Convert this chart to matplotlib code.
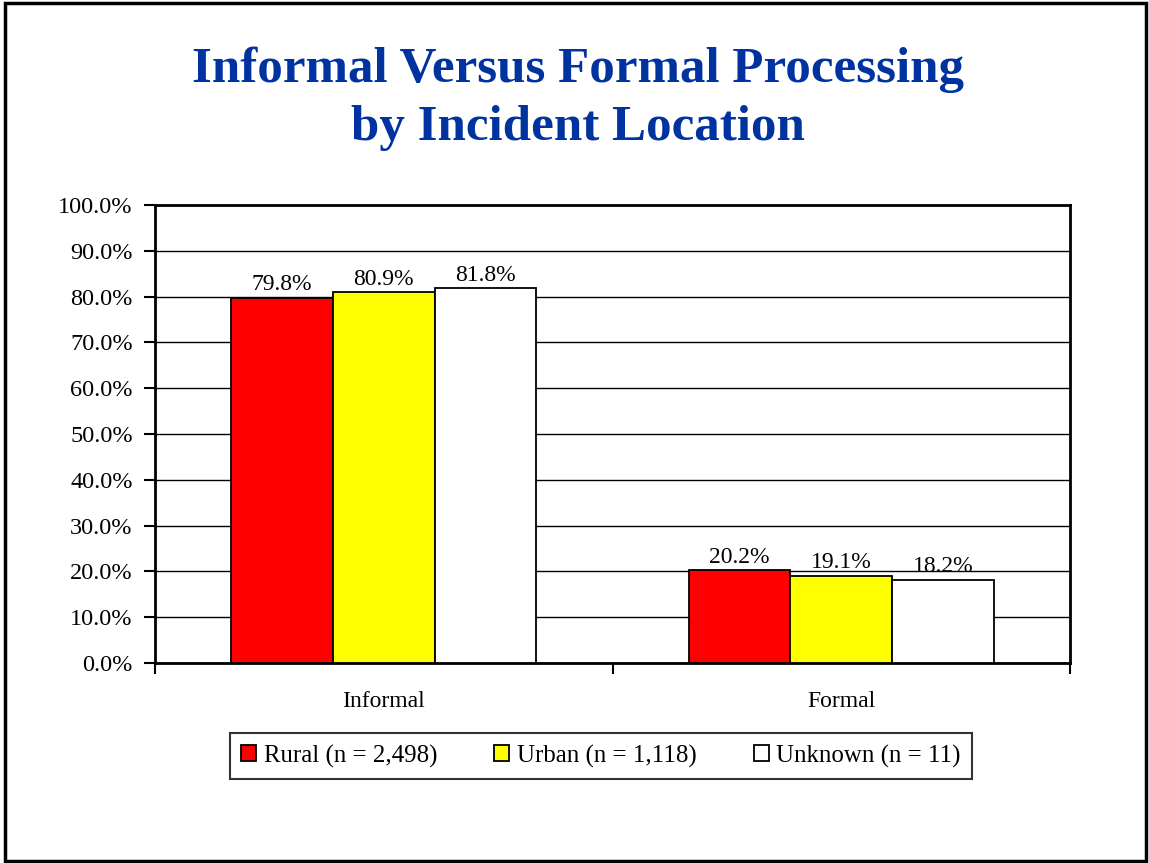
import numpy as np
import matplotlib.pyplot as plt
from matplotlib.patches import Rectangle

# datos del grafico
categorias = ['Informal', 'Formal']
series = ['Rural (n = 2,498)', 'Urban (n = 1,118)', 'Unknown (n = 11)']
rural = [79.8, 20.2]
urban = [80.9, 19.1]
unknown = [81.8, 18.2]
colores = ['#FF0000', '#FFFF00', '#FFFFFF']

plt.rcParams['font.family'] = ['Liberation Serif', 'DejaVu Serif']

fig = plt.figure(figsize=(11.49, 8.63), dpi=100)
W, H = 1149, 863

# marco exterior
fig.patches.append(Rectangle((5 / W, 2 / H), 1141 / W, 858 / H, transform=fig.transFigure,
                             fill=False, edgecolor='black', linewidth=2.5))

# titulo
fig.text(578 / W, 1 - 70 / H, 'Informal Versus Formal Processing', ha='center', va='center',
         fontsize=36.7, fontweight='bold', color='#0033A0')
fig.text(578 / W, 1 - 128 / H, 'by Incident Location', ha='center', va='center',
         fontsize=36.7, fontweight='bold', color='#0033A0')

ax = fig.add_axes([155 / W, 1 - 663 / H, (1070 - 155) / W, (663 - 205) / H])

x = np.arange(len(categorias))
ancho = 0.222
valores = [rural, urban, unknown]
for i, (vals, c, nombre) in enumerate(zip(valores, colores, series)):
    pos = x + (i - 1) * ancho
    ax.bar(pos, vals, ancho, color=c, edgecolor='black', linewidth=1.3,
           label=nombre, zorder=3)
    for xi, v in zip(pos, vals):
        ax.text(xi, v + 0.5, f'{v:.1f}%', ha='center', va='bottom', fontsize=17, zorder=4)

ax.set_xlim(-0.5, 1.5)
ax.set_ylim(0, 100)
ax.set_yticks(np.arange(0, 101, 10))
ax.set_yticklabels([f'{v:.1f}%' for v in np.arange(0, 101, 10)])
ax.yaxis.grid(True, color='black', linewidth=1.0, zorder=0)
ax.set_axisbelow(True)

ax.set_xticks([-0.5, 0.5, 1.5], minor=False)
ax.set_xticklabels(['', '', ''])
ax.set_xticks(x, minor=True)
ax.set_xticklabels(categorias, minor=True)
ax.tick_params(axis='x', which='major', length=8, width=1.5, direction='out')
ax.tick_params(axis='x', which='minor', length=0, pad=20, labelsize=17)
ax.tick_params(axis='y', length=8, width=1.5, direction='out', labelsize=17.5, pad=8)

for s in ax.spines.values():
    s.set_linewidth(2)

leg = fig.legend(loc='center', bbox_to_anchor=(601 / W, 1 - 756 / H), ncol=3, fontsize=17.9,
                 frameon=True, fancybox=False, edgecolor='black', handlelength=0.6,
                 handleheight=0.6, handletextpad=0.3, columnspacing=2.3, borderpad=0.45,
                 borderaxespad=0)
leg.get_frame().set_linewidth(1.5)

fig.savefig('out.png', dpi=100)
